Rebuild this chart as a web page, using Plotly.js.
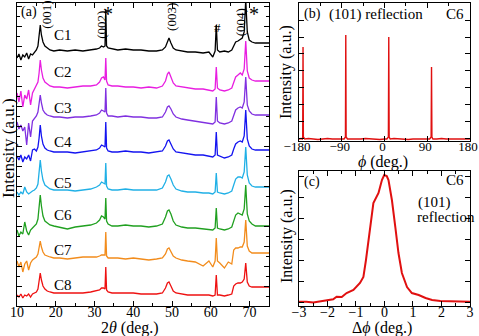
<!DOCTYPE html>
<html>
<head>
<meta charset="utf-8">
<script src="https://cdn.plot.ly/plotly-3.0.1.min.js"></script>
<style>
  body { margin: 0; background: #fff; }
  #chart { width: 479px; height: 336px; }
</style>
</head>
<body>
<div id="chart"></div>
<script>
// (a) XRD patterns, shared 2theta grid
var twoTheta = [10, 10.5, 11, 11.5, 12, 12.5, 13, 13.5, 14, 14.5,
  15, 15.4, 15.7, 16.0, 16.3, 16.7, 17.2, 17.8, 18.5, 19.5,
  21, 23, 25, 27, 29, 30.5, 31.3, 31.8, 32.3, 32.7,
  32.9, 33.1, 33.5, 34.5, 36, 38, 40, 42, 44, 46,
  47.5, 48.3, 48.8, 49.2, 49.7, 50.3, 51, 52.5, 54, 56,
  58, 59.5, 60.5, 61.1, 61.4, 61.7, 62.3, 63.5, 64.5, 65.4,
  65.9, 66.4, 67, 67.6, 68.1, 68.6, 69.0, 69.4, 69.9, 70.6,
  71.5, 73, 75];

var sampleNames = ['C1', 'C2', 'C3', 'C4', 'C5', 'C6', 'C7', 'C8'];
var offsets = [256, 219, 189, 154, 116, 80, 48, 13];
var colors = ['#000000', '#e81ee0', '#8030e0', '#1414f0', '#20b0e6', '#20a020', '#f28c1c', '#ee1111'];

var c1 = [-8, -4, -10, -5, -7, -3, -9, -4, -5, -2,
  0, 4, 12, 25, 15, 8, 4, 2, 0, -1,
  0, -1, 0, -1, 0, 1, 2, 4, 3, 4,
  40, 4, 2, 1, 0, 1, 0, 0, -1, -1,
  0, 3, 9, 12, 7, 2, 0, -1, -2, -2,
  -3, -2, -7, -1, 25, 0, -2, -1, -2, 0,
  4, 8, 9, 11, 12, 18, 50, 18, 10, 8,
  7, 7, 7];
var c2 = [-6, -15, -4, -20, -8, -12, -3, -18, -6, -2,
  1, 5, 14, 27, 17, 9, 5, 3, 1, 0,
  0, -1, 0, 1, 1, 2, 5, 9, 10, 7,
  29, 6, 2, 1, 1, 0, 0, -1, 0, -1,
  1, 6, 13, 15, 10, 4, 1, 0, -1, -2,
  -2, -3, -4, -2, 20, -1, -3, -4, -3, -1,
  5, 10, 12, 14, 12, 18, 46, 16, 9, 7,
  6, 6, 6];
var c3 = [-5, -12, -8, -14, -10, -28, -6, -20, -4, -1,
  1, 5, 12, 22, 14, 7, 4, 2, 1, 0,
  0, -1, 0, 0, 1, 2, 4, 7, 6, 5,
  29, 4, 1, 1, 0, 1, 0, 0, -1, -1,
  0, 5, 10, 11, 8, 3, 0, -2, -3, -4,
  -5, -6, -7, -5, 20, -4, -6, -7, -6, -4,
  2, 7, 9, 10, 9, 15, 40, 12, 6, 3,
  2, 2, 2];
var c4 = [-4, -8, -3, -10, -5, -7, -3, -9, 2, 3,
  1, 5, 14, 27, 16, 8, 4, 2, 1, 0,
  0, 0, -1, 0, 1, 2, 4, 7, 6, 5,
  30, 4, 1, 0, 0, 1, 0, 0, -1, 0,
  1, 6, 11, 12, 8, 3, 0, -1, -2, -3,
  -3, -4, -5, -3, 20, -3, -4, -6, -5, -3,
  3, 8, 10, 11, 10, 16, 42, 13, 6, 3,
  2, 2, 2];
var c5 = [-2, -5, -2, -4, 3, -2, -4, -2, -1, 0,
  2, 6, 16, 30, 19, 10, 5, 3, 1, 0,
  0, 0, -1, 0, 1, 3, 5, 8, 7, 6,
  27, 4, 1, 0, 0, 1, 0, 0, 0, 0,
  2, 8, 14, 15, 11, 5, 1, -1, -2, -2,
  -3, -3, -4, -2, 17, -2, -3, -4, -3, -1,
  5, 11, 13, 13, 12, 18, 43, 15, 7, 4,
  3, 3, 3];
var c6 = [-4, -10, -6, -8, 4, -5, -9, -4, -2, 0,
  2, 7, 17, 31, 20, 10, 5, 3, 1, 0,
  -1, -3, -1, 0, 1, 3, 6, 10, 9, 7,
  28, 5, 2, 0, 0, 1, 0, 0, -1, 0,
  2, 9, 15, 16, 12, 5, 1, -1, -2, -2,
  -3, -3, -4, -2, 18, -2, -3, -4, -3, -1,
  5, 11, 13, 12, 11, 17, 41, 12, 5, 2,
  0, 0, 0];
var c7 = [-3, -9, -4, -14, -6, -3, -12, -5, -2, 0,
  1, 4, 10, 17, 11, 6, 3, 2, 1, 0,
  0, -1, 0, 1, 1, 1, 2, 3, 3, 3,
  26, 2, 0, 0, 0, -1, 0, -1, -2, -1,
  0, 4, 9, 10, 6, 2, 0, -2, -3, -4,
  -8, -3, -9, -3, 20, -3, -5, -10, -4, -6,
  8, 10, 10, 11, 11, 16, 38, 12, 7, 5,
  5, 5, 5];
var c8 = [-2, -4, -1, -5, -2, -3, -1, -4, -1, 0,
  1, 4, 11, 20, 13, 7, 4, 2, 1, 0,
  0, 0, 0, 0, 1, 2, 3, 5, 5, 4,
  26, 3, 1, 0, 0, 0, 0, -1, -1, -1,
  0, 5, 10, 11, 7, 2, 0, -1, -2, -2,
  -2, -2, -3, -2, 18, -2, -2, -3, -2, -1,
  7, 9, 10, 10, 11, 14, 30, 11, 7, 6,
  6, 6, 6];
var patterns = [c1, c2, c3, c4, c5, c6, c7, c8];

// (b) phi scan of the (101) reflection, C6
var phi = [-180, -176, -173, -172.2, -171.5, -170.8, -168, -160, -150, -140,
  -130, -120, -110, -100, -90, -85, -82.2, -81.5, -80.8, -78,
  -70, -60, -50, -40, -30, -20, -10, 0, 5, 8.2,
  9, 9.8, 12, 20, 30, 40, 50, 60, 70, 80,
  90, 95, 98.2, 99, 99.8, 102, 110, 120, 130, 140,
  150, 160, 170, 180];
var phiInt = [2, 2.5, 2, 4, 94, 4, 2, 2.5, 2, 1.5,
  2, 2.5, 2, 2, 2.5, 2, 4, 106, 4, 2,
  2, 1.5, 2, 2.5, 2, 2, 1.5, 2, 2, 4,
  104, 4, 2, 2.5, 2, 2, 1.5, 2, 2, 2.5,
  2, 2, 4, 74, 4, 2, 2, 2.5, 2, 2,
  1.5, 2, 2, 2];

// (c) rocking curve of the (101) reflection, C6
var dPhi = [-3, -2.74, -2.5, -2.15, -1.8, -1.68, -1.5, -1.33, -1.09, -0.86,
  -0.74, -0.65, -0.51, -0.39, -0.21, -0.09, -0.01, 0.08, 0.14, 0.26,
  0.38, 0.49, 0.61, 0.79, 0.96, 1.2, 1.44, 1.67, 1.96, 2.4,
  3];
var rockInt = [4.3, 4.3, 3.5, 5.3, 6.7, 9.3, 9, 13, 16, 23,
  29, 46, 74, 103, 113, 126, 131, 130, 126, 106,
  79, 53, 33, 19, 13, 11, 8, 6, 5, 4.5,
  4.3];

var serif = '"Liberation Serif", "Times New Roman", Times, serif';

var data = [];
for (var i = 0; i < patterns.length; i++) {
  var ys = patterns[i].map(function (v) { return v + offsets[i]; });
  data.push({
    x: twoTheta, y: ys, type: 'scatter', mode: 'lines',
    name: sampleNames[i],
    line: { color: colors[i], width: 1.3 },
    xaxis: 'x', yaxis: 'y', showlegend: false
  });
}
data.push({
  x: phi, y: phiInt, type: 'scatter', mode: 'lines',
  line: { color: '#e01010', width: 1.4 },
  xaxis: 'x2', yaxis: 'y2', showlegend: false
});
data.push({
  x: dPhi, y: rockInt, type: 'scatter', mode: 'lines',
  line: { color: '#e01010', width: 2 },
  xaxis: 'x3', yaxis: 'y3', showlegend: false
});

function f(size) { return { family: serif, size: size, color: '#000' }; }

function axisBase() {
  return {
    showline: true, linecolor: '#000', linewidth: 1, mirror: 'allticks',
    ticks: 'inside', ticklen: 5, tickcolor: '#000', tickwidth: 1,
    showgrid: false, zeroline: false,
    ticklabeloverflow: 'allow', ticklabelstandoff: -7,
    tickfont: f(14)
  };
}

var xa = axisBase();
Object.assign(xa, { domain: [0, 0.5563], range: [10, 75], tick0: 10, dtick: 10,
  anchor: 'y', minor: { dtick: 5, ticks: 'inside', ticklen: 3, tickcolor: '#000' } });
var ya = axisBase();
Object.assign(ya, { domain: [0, 1], range: [0, 303], showticklabels: false, anchor: 'x',
  tick0: 0, dtick: 20, minor: { dtick: 10, ticks: 'inside', ticklen: 3, tickcolor: '#000' } });

var xb = axisBase();
Object.assign(xb, { domain: [0.6225, 1], range: [-180, 180], tickvals: [-180, -90, 0, 90, 180],
  tickfont: f(13), ticklabelshift: -2,
  anchor: 'y2', minor: { tickvals: [-135, -45, 45, 135], ticks: 'inside', ticklen: 3, tickcolor: '#000' } });
var yb = axisBase();
Object.assign(yb, { domain: [0.5446, 1], range: [0, 138], showticklabels: false, anchor: 'x2',
  tick0: 2, dtick: 17 });

var xc = axisBase();
Object.assign(xc, { domain: [0.6225, 1], range: [-3, 3], dtick: 1, anchor: 'y3',
  minor: { dtick: 0.5, ticks: 'inside', ticklen: 3, tickcolor: '#000' } });
var yc = axisBase();
Object.assign(yc, { domain: [0, 0.4455], range: [0, 135], showticklabels: false, anchor: 'x3',
  tick0: 4, dtick: 21 });

function txt(text, x, y, opts) {
  var a = {
    text: text, x: x, y: y, showarrow: false,
    font: f(13),
    xanchor: 'center', yanchor: 'middle'
  };
  return Object.assign(a, opts || {});
}
function paperX(px) { return (px - 17) / 453; }
function paperY(py) { return (306 - py) / 303; }

var labelY = [271, 234, 198, 164, 123, 91, 56, 21];
var annotations = [];
for (var k = 0; k < sampleNames.length; k++) {
  annotations.push(txt(sampleNames[k], 21.8, labelY[k], { xref: 'x', yref: 'y', font: f(15) }));
}
annotations.push(
  txt('(a)', 10.4, 294, { xref: 'x', yref: 'y', xanchor: 'left', font: f(14) }),
  txt('(001)', 17.4, 291, { xref: 'x', yref: 'y', textangle: -90, font: f(13) }),
  txt('(002)', 31.6, 281, { xref: 'x', yref: 'y', textangle: -90, font: f(13) }),
  txt('*', 33.4, 292, { xref: 'x', yref: 'y', font: f(20) }),
  txt('(003)', 49.7, 289, { xref: 'x', yref: 'y', textangle: -90, font: f(13) }),
  txt('#', 61.8, 279, { xref: 'x', yref: 'y', font: f(13) }),
  txt('(004)', 67.6, 284, { xref: 'x', yref: 'y', textangle: -90, font: f(13) }),
  txt('*', 71.2, 292, { xref: 'x', yref: 'y', font: f(20) }),
  txt('(b)', -174, 127, { xref: 'x2', yref: 'y2', xanchor: 'left', font: f(14) }),
  txt('(101) reflection', -121, 127, { xref: 'x2', yref: 'y2', xanchor: 'left', font: f(15) }),
  txt('C6', 172, 127, { xref: 'x2', yref: 'y2', xanchor: 'right', font: f(15) }),
  txt('(c)', -2.9, 124, { xref: 'x3', yref: 'y3', xanchor: 'left', font: f(14) }),
  txt('C6', 2.86, 126, { xref: 'x3', yref: 'y3', xanchor: 'right', font: f(15) }),
  txt('(101)', 1.1, 104, { xref: 'x3', yref: 'y3', xanchor: 'left', font: f(15) }),
  txt('reflection', 1.07, 89, { xref: 'x3', yref: 'y3', xanchor: 'left', font: f(15) }),
  // axis titles
  txt('Intensity (a.u.)', paperX(8), paperY(148), { xref: 'paper', yref: 'paper', textangle: -90, font: f(17) }),
  txt('Intensity (a.u.)', paperX(286), paperY(72), { xref: 'paper', yref: 'paper', textangle: -90, font: f(16) }),
  txt('Intensity (a.u.)', paperX(287), paperY(236), { xref: 'paper', yref: 'paper', textangle: -90, font: f(16) }),
  txt('2<i>θ</i> (deg.)', paperX(130), paperY(328), { xref: 'paper', yref: 'paper', font: f(16) }),
  txt('<i>ϕ</i> (deg.)', paperX(383), paperY(162), { xref: 'paper', yref: 'paper', font: f(16) }),
  txt('Δ<i>ϕ</i> (deg.)', paperX(382), paperY(328), { xref: 'paper', yref: 'paper', font: f(16) })
);

var layout = {
  width: 479, height: 336,
  margin: { l: 17, r: 9, t: 3, b: 30 },
  paper_bgcolor: '#fff', plot_bgcolor: '#fff',
  font: f(13),
  xaxis: xa, yaxis: ya,
  xaxis2: xb, yaxis2: yb,
  xaxis3: xc, yaxis3: yc,
  annotations: annotations
};

Plotly.newPlot('chart', data, layout, { displayModeBar: false, staticPlot: true });
</script>
</body>
</html>
